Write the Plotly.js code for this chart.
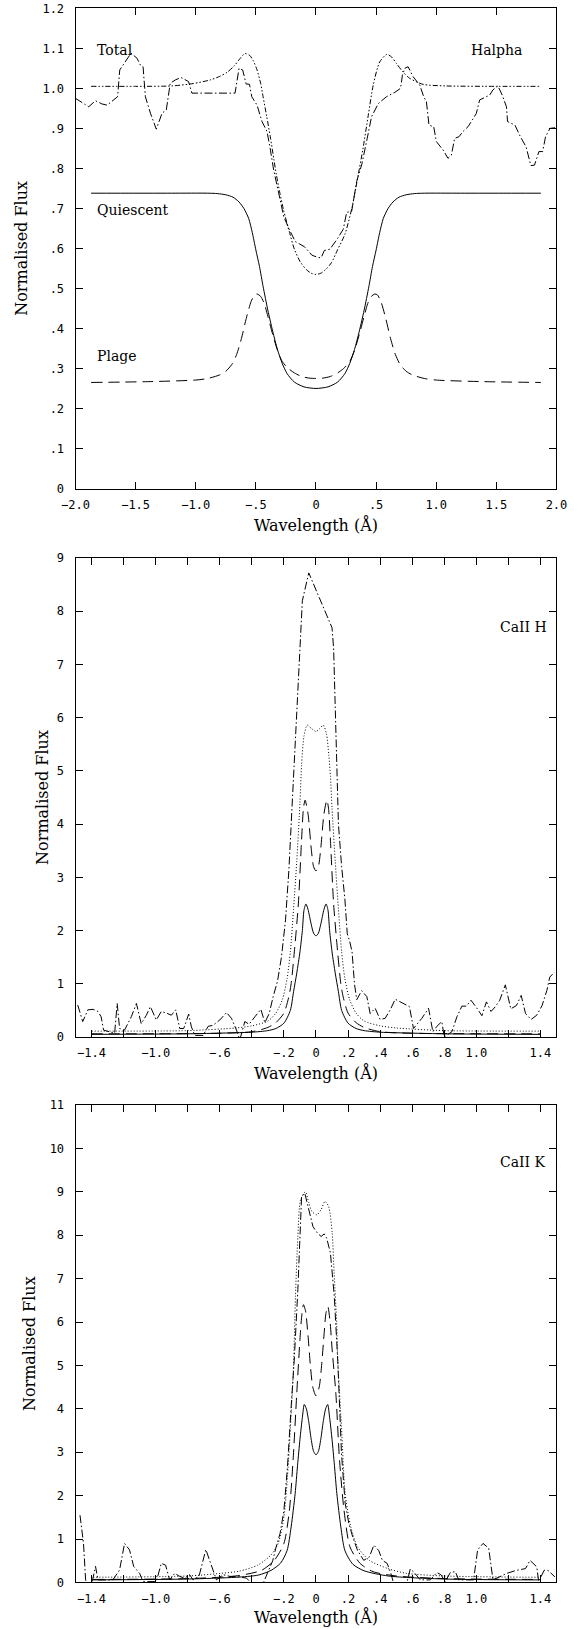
<!DOCTYPE html>
<html><head><meta charset="utf-8">
<script src="https://cdn.plot.ly/plotly-3.0.1.min.js"></script>
<style>html,body{margin:0;padding:0;background:#fff}#chart{width:579px;height:1629px}</style>
</head><body><div id="chart"></div>
<script>
// ---------------- Halpha ----------------
const haQuiescentX = [-1.87,-1.2,-0.9,-0.82,-0.75,-0.69,-0.64,-0.60,-0.56,-0.53,-0.50,-0.47,-0.44,-0.40,-0.36,-0.32,-0.28,-0.24,-0.18,-0.10,0,0.10,0.18,0.24,0.28,0.32,0.36,0.40,0.44,0.47,0.50,0.53,0.56,0.60,0.64,0.69,0.75,0.82,0.9,1.2,1.87];
const haQuiescentY = [0.738,0.738,0.738,0.737,0.734,0.728,0.716,0.700,0.675,0.640,0.596,0.555,0.505,0.445,0.393,0.347,0.312,0.287,0.266,0.254,0.250,0.254,0.266,0.287,0.312,0.347,0.393,0.445,0.505,0.555,0.596,0.640,0.675,0.700,0.716,0.728,0.734,0.737,0.738,0.738,0.738];
const haPlageX = [-1.87,-1.4,-1.0,-0.9,-0.8,-0.75,-0.7,-0.66,-0.62,-0.58,-0.54,-0.51,-0.49,-0.46,-0.43,-0.40,-0.36,-0.32,-0.28,-0.23,-0.18,-0.12,-0.06,0,0.06,0.12,0.18,0.23,0.28,0.32,0.36,0.40,0.43,0.46,0.49,0.51,0.54,0.58,0.62,0.66,0.7,0.75,0.8,0.9,1.0,1.4,1.87];
const haPlageY = [0.265,0.267,0.271,0.275,0.284,0.293,0.31,0.335,0.375,0.425,0.467,0.484,0.486,0.480,0.462,0.430,0.385,0.345,0.317,0.300,0.289,0.280,0.276,0.275,0.276,0.280,0.289,0.300,0.317,0.345,0.385,0.430,0.462,0.480,0.486,0.484,0.467,0.425,0.375,0.335,0.31,0.293,0.284,0.275,0.271,0.267,0.265];
const haTotalX = [-1.87,-1.5,-1.2,-1.02,-0.88,-0.80,-0.74,-0.68,-0.63,-0.59,-0.55,-0.52,-0.49,-0.46,-0.44,-0.41,-0.38,-0.35,-0.33,-0.30,-0.27,-0.22,-0.18,-0.13,-0.08,-0.04,0,0.04,0.08,0.13,0.18,0.24,0.30,0.35,0.39,0.435,0.476,0.53,0.59,0.63,0.67,0.72,0.78,0.89,1.08,1.5,1.87];
const haTotalY = [1.005,1.005,1.006,1.012,1.021,1.030,1.040,1.056,1.075,1.087,1.082,1.068,1.046,1.012,0.979,0.930,0.879,0.822,0.785,0.738,0.696,0.640,0.598,0.566,0.547,0.538,0.535,0.538,0.547,0.565,0.597,0.635,0.703,0.782,0.848,0.933,1.008,1.066,1.085,1.078,1.062,1.042,1.025,1.010,1.006,1.005,1.005];
const haObsX = [-2.0,-1.89,-1.834,-1.78,-1.737,-1.668,-1.65,-1.632,-1.585,-1.538,-1.488,-1.46,-1.438,-1.419,-1.377,-1.328,-1.28,-1.245,-1.212,-1.17,-1.123,-1.06,-1.032,-0.673,-0.64,-0.61,-0.581,-0.553,-0.534,-0.49,-0.449,-0.407,-0.379,-0.352,-0.31,-0.268,-0.218,-0.172,-0.095,-0.034,0.02,0.043,0.07,0.116,0.18,0.227,0.255,0.297,0.338,0.38,0.426,0.462,0.476,0.518,0.586,0.656,0.703,0.719,0.738,0.766,0.808,0.863,0.896,0.918,0.94,0.979,1.001,1.057,1.098,1.126,1.153,1.189,1.222,1.264,1.3,1.333,1.361,1.388,1.444,1.471,1.513,1.549,1.584,1.593,1.655,1.70,1.747,1.787,1.817,1.854,1.885,1.909,1.946,2.0];
const haObsY = [0.975,0.954,0.969,0.961,0.958,0.975,0.979,1.046,1.067,1.088,1.075,1.058,1.054,0.979,0.938,0.898,0.938,0.946,1.013,1.021,1.027,1.017,0.988,0.988,1.05,1.046,1.011,1.01,0.979,0.958,0.917,0.892,0.846,0.796,0.738,0.679,0.645,0.617,0.604,0.583,0.577,0.577,0.595,0.598,0.625,0.648,0.69,0.693,0.767,0.809,0.875,0.929,0.937,0.962,0.979,0.99,1.0,1.033,1.05,1.054,1.029,1.008,0.979,0.967,0.908,0.904,0.867,0.846,0.825,0.833,0.875,0.879,0.892,0.904,0.921,0.937,0.971,0.975,0.983,0.996,1.006,0.983,0.954,0.917,0.908,0.879,0.854,0.807,0.808,0.842,0.842,0.879,0.9,0.902];

// ---------------- CaII H ----------------
const hQuiescentX = [-1.4,-0.8,-0.5,-0.4,-0.3,-0.25,-0.2,-0.16,-0.14,-0.12,-0.10,-0.085,-0.075,-0.063,-0.05,-0.03,-0.015,0,0.015,0.03,0.05,0.063,0.075,0.085,0.10,0.12,0.14,0.16,0.2,0.25,0.3,0.4,0.5,0.8,1.4];
const hQuiescentY = [0.05,0.06,0.08,0.09,0.12,0.16,0.26,0.5,0.85,1.2,1.6,2.0,2.38,2.5,2.4,2.12,1.95,1.9,1.95,2.12,2.4,2.5,2.38,2.0,1.6,1.2,0.85,0.5,0.26,0.16,0.12,0.09,0.08,0.06,0.05];
const hPlageX = [-1.4,-0.6,-0.4,-0.3,-0.25,-0.2,-0.17,-0.155,-0.135,-0.11,-0.09,-0.078,-0.068,-0.05,-0.03,-0.015,0,0.015,0.03,0.05,0.068,0.078,0.09,0.11,0.135,0.155,0.17,0.2,0.25,0.3,0.4,0.6,1.4];
const hPlageY = [0.06,0.07,0.1,0.18,0.27,0.45,0.75,1.0,1.6,2.5,3.7,4.3,4.45,4.2,3.55,3.2,3.12,3.2,3.55,4.2,4.45,4.3,3.7,2.5,1.6,1.0,0.75,0.45,0.27,0.18,0.1,0.07,0.06];
const hTotalX = [-1.4,-0.8,-0.5,-0.4,-0.3,-0.25,-0.21,-0.18,-0.16,-0.14,-0.12,-0.10,-0.09,-0.075,-0.055,-0.03,0,0.025,0.045,0.065,0.08,0.09,0.10,0.12,0.14,0.16,0.18,0.21,0.25,0.3,0.4,0.5,0.8,1.4];
const hTotalY = [0.11,0.12,0.17,0.21,0.3,0.45,0.7,1.1,1.6,2.4,3.3,4.4,5.1,5.65,5.86,5.8,5.74,5.8,5.86,5.7,5.3,4.9,4.3,3.3,2.4,1.6,1.1,0.7,0.45,0.3,0.21,0.17,0.12,0.11];
const hObsX = [-1.486,-1.455,-1.423,-1.39,-1.36,-1.34,-1.325,-1.256,-1.24,-1.225,-1.194,-1.152,-1.12,-1.09,-1.058,-1.033,-0.996,-0.965,-0.933,-0.902,-0.875,-0.85,-0.825,-0.794,-0.777,-0.756,-0.704,-0.673,-0.642,-0.6,-0.558,-0.527,-0.496,-0.475,-0.444,-0.417,-0.381,-0.344,-0.319,-0.292,-0.267,-0.24,-0.215,-0.19,-0.169,-0.148,-0.125,-0.108,-0.085,-0.045,0.1,0.11,0.12,0.132,0.14,0.16,0.18,0.195,0.21,0.225,0.24,0.254,0.285,0.317,0.338,0.369,0.4,0.431,0.463,0.494,0.546,0.583,0.608,0.66,0.702,0.729,0.754,0.785,0.8,0.848,0.879,0.91,0.938,0.967,1.004,1.035,1.063,1.092,1.119,1.146,1.181,1.215,1.25,1.28,1.307,1.342,1.377,1.41,1.44,1.458,1.488];
const hObsY = [0.60,0.29,0.51,0.52,0.48,0.38,0.13,0.07,0.63,0.16,0.13,0.38,0.63,0.25,0.41,0.57,0.32,0.48,0.45,0.41,0.51,0.16,0.16,0.43,0.19,0.03,0.03,0.2,0.22,0.32,0.46,0.35,0.13,-0.05,0.29,0.24,0.38,0.52,0.27,0.44,0.76,1.05,1.51,2.2,3.14,4.39,5.96,7.0,8.2,8.72,7.69,7.3,6.2,5.0,4.0,3.2,2.6,1.94,1.8,1.6,1.0,0.70,0.87,0.76,0.44,0.54,0.33,0.35,0.51,0.71,0.62,0.57,0.16,0.35,0.54,0.10,0.2,0.29,0.0,0.1,0.38,0.58,0.58,0.69,0.54,0.40,0.66,0.48,0.57,0.69,0.98,0.53,0.59,0.78,0.44,0.33,0.41,0.59,0.875,1.125,1.22];

// ---------------- CaII K ----------------
const kQuiescentX = [-1.39,-0.8,-0.5,-0.36,-0.28,-0.22,-0.18,-0.155,-0.13,-0.115,-0.10,-0.085,-0.073,-0.06,-0.045,-0.03,-0.015,0,0.015,0.03,0.045,0.06,0.073,0.085,0.10,0.115,0.13,0.155,0.18,0.23,0.30,0.45,0.8,1.39];
const kQuiescentY = [0.06,0.08,0.12,0.17,0.28,0.45,0.74,1.28,2.05,2.7,3.3,3.8,4.1,4.0,3.7,3.3,3.02,2.94,3.02,3.3,3.7,4.0,4.1,3.8,3.3,2.7,2.05,1.28,0.74,0.42,0.27,0.15,0.08,0.06];
const kPlageX = [-1.39,-0.8,-0.5,-0.34,-0.26,-0.2,-0.166,-0.143,-0.12,-0.10,-0.09,-0.078,-0.065,-0.05,-0.035,-0.02,0,0.02,0.035,0.05,0.062,0.074,0.088,0.10,0.124,0.147,0.175,0.212,0.275,0.356,0.5,0.8,1.39];
const kPlageY = [0.07,0.09,0.15,0.28,0.51,0.9,1.66,2.81,4.35,5.6,6.1,6.4,6.25,5.7,5.0,4.5,4.3,4.5,5.0,5.7,6.2,6.36,6.0,5.4,4.35,2.81,1.66,0.82,0.44,0.25,0.15,0.09,0.07];
const kTotalX = [-1.39,-0.8,-0.595,-0.479,-0.363,-0.282,-0.236,-0.2,-0.178,-0.154,-0.14,-0.128,-0.113,-0.096,-0.066,-0.045,-0.026,0.005,0.032,0.056,0.079,0.101,0.113,0.129,0.136,0.159,0.182,0.217,0.259,0.333,0.449,0.565,0.8,1.39];
const kTotalY = [0.12,0.15,0.21,0.26,0.4,0.63,0.9,1.51,2.43,3.96,5.0,6.6,7.97,8.82,9.0,8.75,8.55,8.47,8.59,8.78,8.66,8.05,7.13,5.98,5.12,3.58,2.05,1.28,0.82,0.51,0.32,0.21,0.15,0.12];
const kObsX = [-1.472,-1.45,-1.437,-1.415,-1.396,-1.375,-1.36,-1.267,-1.225,-1.194,-1.163,-1.137,-1.1,-1.079,-0.996,-0.965,-0.938,-0.913,-0.881,-0.85,-0.819,-0.788,-0.767,-0.73,-0.687,-0.652,-0.621,-0.579,-0.537,-0.496,-0.433,-0.402,-0.36,-0.33,-0.30,-0.27,-0.25,-0.224,-0.2,-0.178,-0.154,-0.136,-0.113,-0.09,-0.07,-0.037,-0.019,0.009,0.032,0.051,0.067,0.09,0.102,0.114,0.136,0.159,0.182,0.205,0.229,0.259,0.298,0.333,0.361,0.391,0.414,0.444,0.467,0.483,0.567,0.588,0.613,0.65,0.713,0.754,0.779,0.806,0.838,0.869,0.89,0.983,1.008,1.042,1.077,1.104,1.19,1.25,1.307,1.335,1.377,1.389,1.423,1.447,1.49];
const kObsY = [1.55,0.9,0.06,-0.2,0.02,0.37,0.06,0.06,0.29,0.9,0.75,0.37,0.21,0.02,0.02,0.44,0.40,0.06,0.21,0.14,0.10,0.18,0.06,0.14,0.76,0.37,0.06,0.18,0.14,0.14,0.10,-0.02,-0.3,-0.02,0.25,0.5,0.8,1.13,1.66,2.66,4.1,5.1,6.75,8.88,8.97,8.43,8.2,8.05,7.97,8.03,7.93,7.59,7.13,6.6,5.1,2.97,1.82,1.36,1.05,0.74,0.51,0.59,0.86,0.74,0.51,0.44,0.21,0.0,0.0,0.31,0.23,0.06,0.06,0.23,0.18,0.02,0.23,0.25,0.06,0.06,0.75,0.9,0.79,0.06,0.21,0.28,0.32,0.51,0.36,0.02,0.28,0.28,0.13];

// ---------------- ticks & labels ----------------
const haTickVals = [-2,-1.5,-1,-0.5,0,0.5,1,1.5,2];
const haTickText = ['\u22122.0','\u22121.5','\u22121.0','\u2212.5','0','.5','1.0','1.5','2.0'];
const haYTickVals = [0,0.1,0.2,0.3,0.4,0.5,0.6,0.7,0.8,0.9,1.0,1.1,1.2];
const haYTickText = ['0','.1','.2','.3','.4','.5','.6','.7','.8','.9','1.0','1.1','1.2'];
const caTickVals = [-1.4,-1.2,-1.0,-0.8,-0.6,-0.4,-0.2,0,0.2,0.4,0.6,0.8,1.0,1.2,1.4];
const caTickText = ['\u22121.4','','\u22121.0','','\u2212.6','','\u2212.2','0','.2','.4','.6','.8','1.0','','1.4'];
const hYTickVals = [0,1,2,3,4,5,6,7,8,9];
const kYTickVals = [0,1,2,3,4,5,6,7,8,9,10,11];
const panelLabels = ['Total','Quiescent','Plage','Halpha','CaII H','CaII K'];
const xTitle = 'Wavelength (\u00c5)';
const yTitle = 'Normalised Flux';

const DASH = {quiescent:'solid', plage:'11px,6px', total:'1px,2px', totalHa:'5px,2px,1.5px,2px,1.5px,2px', obs:'8px,2.5px,1.5px,2.5px'};

function tr(x, y, xa, ya, dash, smooth){
  return {x:x, y:y, xaxis:xa, yaxis:ya, type:'scatter', mode:'lines',
    line:{color:'#000', width:1, dash:dash, shape: smooth ? 'spline' : 'linear', smoothing: smooth ? 0.7 : 0},
    hoverinfo:'skip', showlegend:false, cliponaxis:true};
}

const data = [
  tr(haQuiescentX, haQuiescentY, 'x', 'y', DASH.quiescent, true),
  tr(haPlageX, haPlageY, 'x', 'y', DASH.plage, true),
  tr(haTotalX, haTotalY, 'x', 'y', DASH.totalHa, true),
  tr(haObsX, haObsY, 'x', 'y', DASH.obs, false),
  tr(hQuiescentX, hQuiescentY, 'x2', 'y2', DASH.quiescent, true),
  tr(hPlageX, hPlageY, 'x2', 'y2', DASH.plage, true),
  tr(hTotalX, hTotalY, 'x2', 'y2', DASH.total, true),
  tr(hObsX, hObsY, 'x2', 'y2', DASH.obs, false),
  tr(kQuiescentX, kQuiescentY, 'x3', 'y3', DASH.quiescent, true),
  tr(kPlageX, kPlageY, 'x3', 'y3', DASH.plage, true),
  tr(kTotalX, kTotalY, 'x3', 'y3', DASH.total, true),
  tr(kObsX, kObsY, 'x3', 'y3', DASH.obs, false)
];

const tickFont = {family:'DejaVu Sans Mono, monospace', size:12, color:'#000'};
const titleFont = {family:'DejaVu Serif, serif', size:16, color:'#000'};
const base = {showline:true, linecolor:'#000', linewidth:1, mirror:'ticks', ticks:'inside', ticklen:7,
  tickwidth:1, tickcolor:'#000', showgrid:false, zeroline:false, tickfont:tickFont, tickmode:'array',
  automargin:false, fixedrange:true};
function ax(extra){ return Object.assign({}, base, extra); }

const XD = [0.1304, 0.9611];
const layout = {
  width:579, height:1629, margin:{l:0, r:0, t:0, b:0},
  paper_bgcolor:'#fff', plot_bgcolor:'#fff', showlegend:false,
  font:{family:'DejaVu Sans Mono', color:'#000'},
  xaxis: ax({domain:XD, anchor:'y', range:[-2,2], tickvals:haTickVals, ticktext:haTickText, ticklabelstandoff:5,
    title:{text:xTitle, font:titleFont, standoff:8}}),
  yaxis: ax({domain:[0.70012,0.99490], anchor:'x', range:[0,1.2], tickvals:haYTickVals, ticktext:haYTickText, ticklabelstandoff:8,
    title:{text:yTitle, font:titleFont, standoff:10}}),
  xaxis2: ax({domain:XD, anchor:'y2', range:[-1.5,1.5], tickvals:caTickVals, ticktext:caTickText, ticklabelstandoff:5,
    title:{text:xTitle, font:titleFont, standoff:8}}),
  yaxis2: ax({domain:[0.36341,0.65746], anchor:'x2', range:[0,9], tickvals:hYTickVals, ticktext:hYTickVals.map(String), ticklabelstandoff:8,
    title:{text:yTitle, font:titleFont, standoff:4}}),
  xaxis3: ax({domain:XD, anchor:'y3', range:[-1.5,1.5], tickvals:caTickVals, ticktext:caTickText, ticklabelstandoff:5,
    title:{text:xTitle, font:titleFont, standoff:6}}),
  yaxis3: ax({domain:[0.02855,0.32167], anchor:'x3', range:[0,11], tickvals:kYTickVals, ticktext:kYTickVals.map(String), ticklabelstandoff:8,
    title:{text:yTitle, font:titleFont, standoff:10}}),
  annotations: [
    {text:panelLabels[0], xref:'x', yref:'y', x:-1.826, y:1.097, xanchor:'left', yanchor:'middle'},
    {text:panelLabels[1], xref:'x', yref:'y', x:-1.826, y:0.695, xanchor:'left', yanchor:'middle'},
    {text:panelLabels[2], xref:'x', yref:'y', x:-1.826, y:0.332, xanchor:'left', yanchor:'middle'},
    {text:panelLabels[3], xref:'x', yref:'y', x:1.72, y:1.097, xanchor:'right', yanchor:'middle'},
    {text:panelLabels[4], xref:'x2', yref:'y2', x:1.447, y:7.7, xanchor:'right', yanchor:'middle'},
    {text:panelLabels[5], xref:'x3', yref:'y3', x:1.442, y:9.69, xanchor:'right', yanchor:'middle'}
  ].map(a => Object.assign({showarrow:false, font:{family:'DejaVu Serif, serif', size:14, color:'#000'}, borderpad:0}, a))
};

Plotly.newPlot('chart', data, layout, {displayModeBar:false, staticPlot:true});
</script></body></html>
